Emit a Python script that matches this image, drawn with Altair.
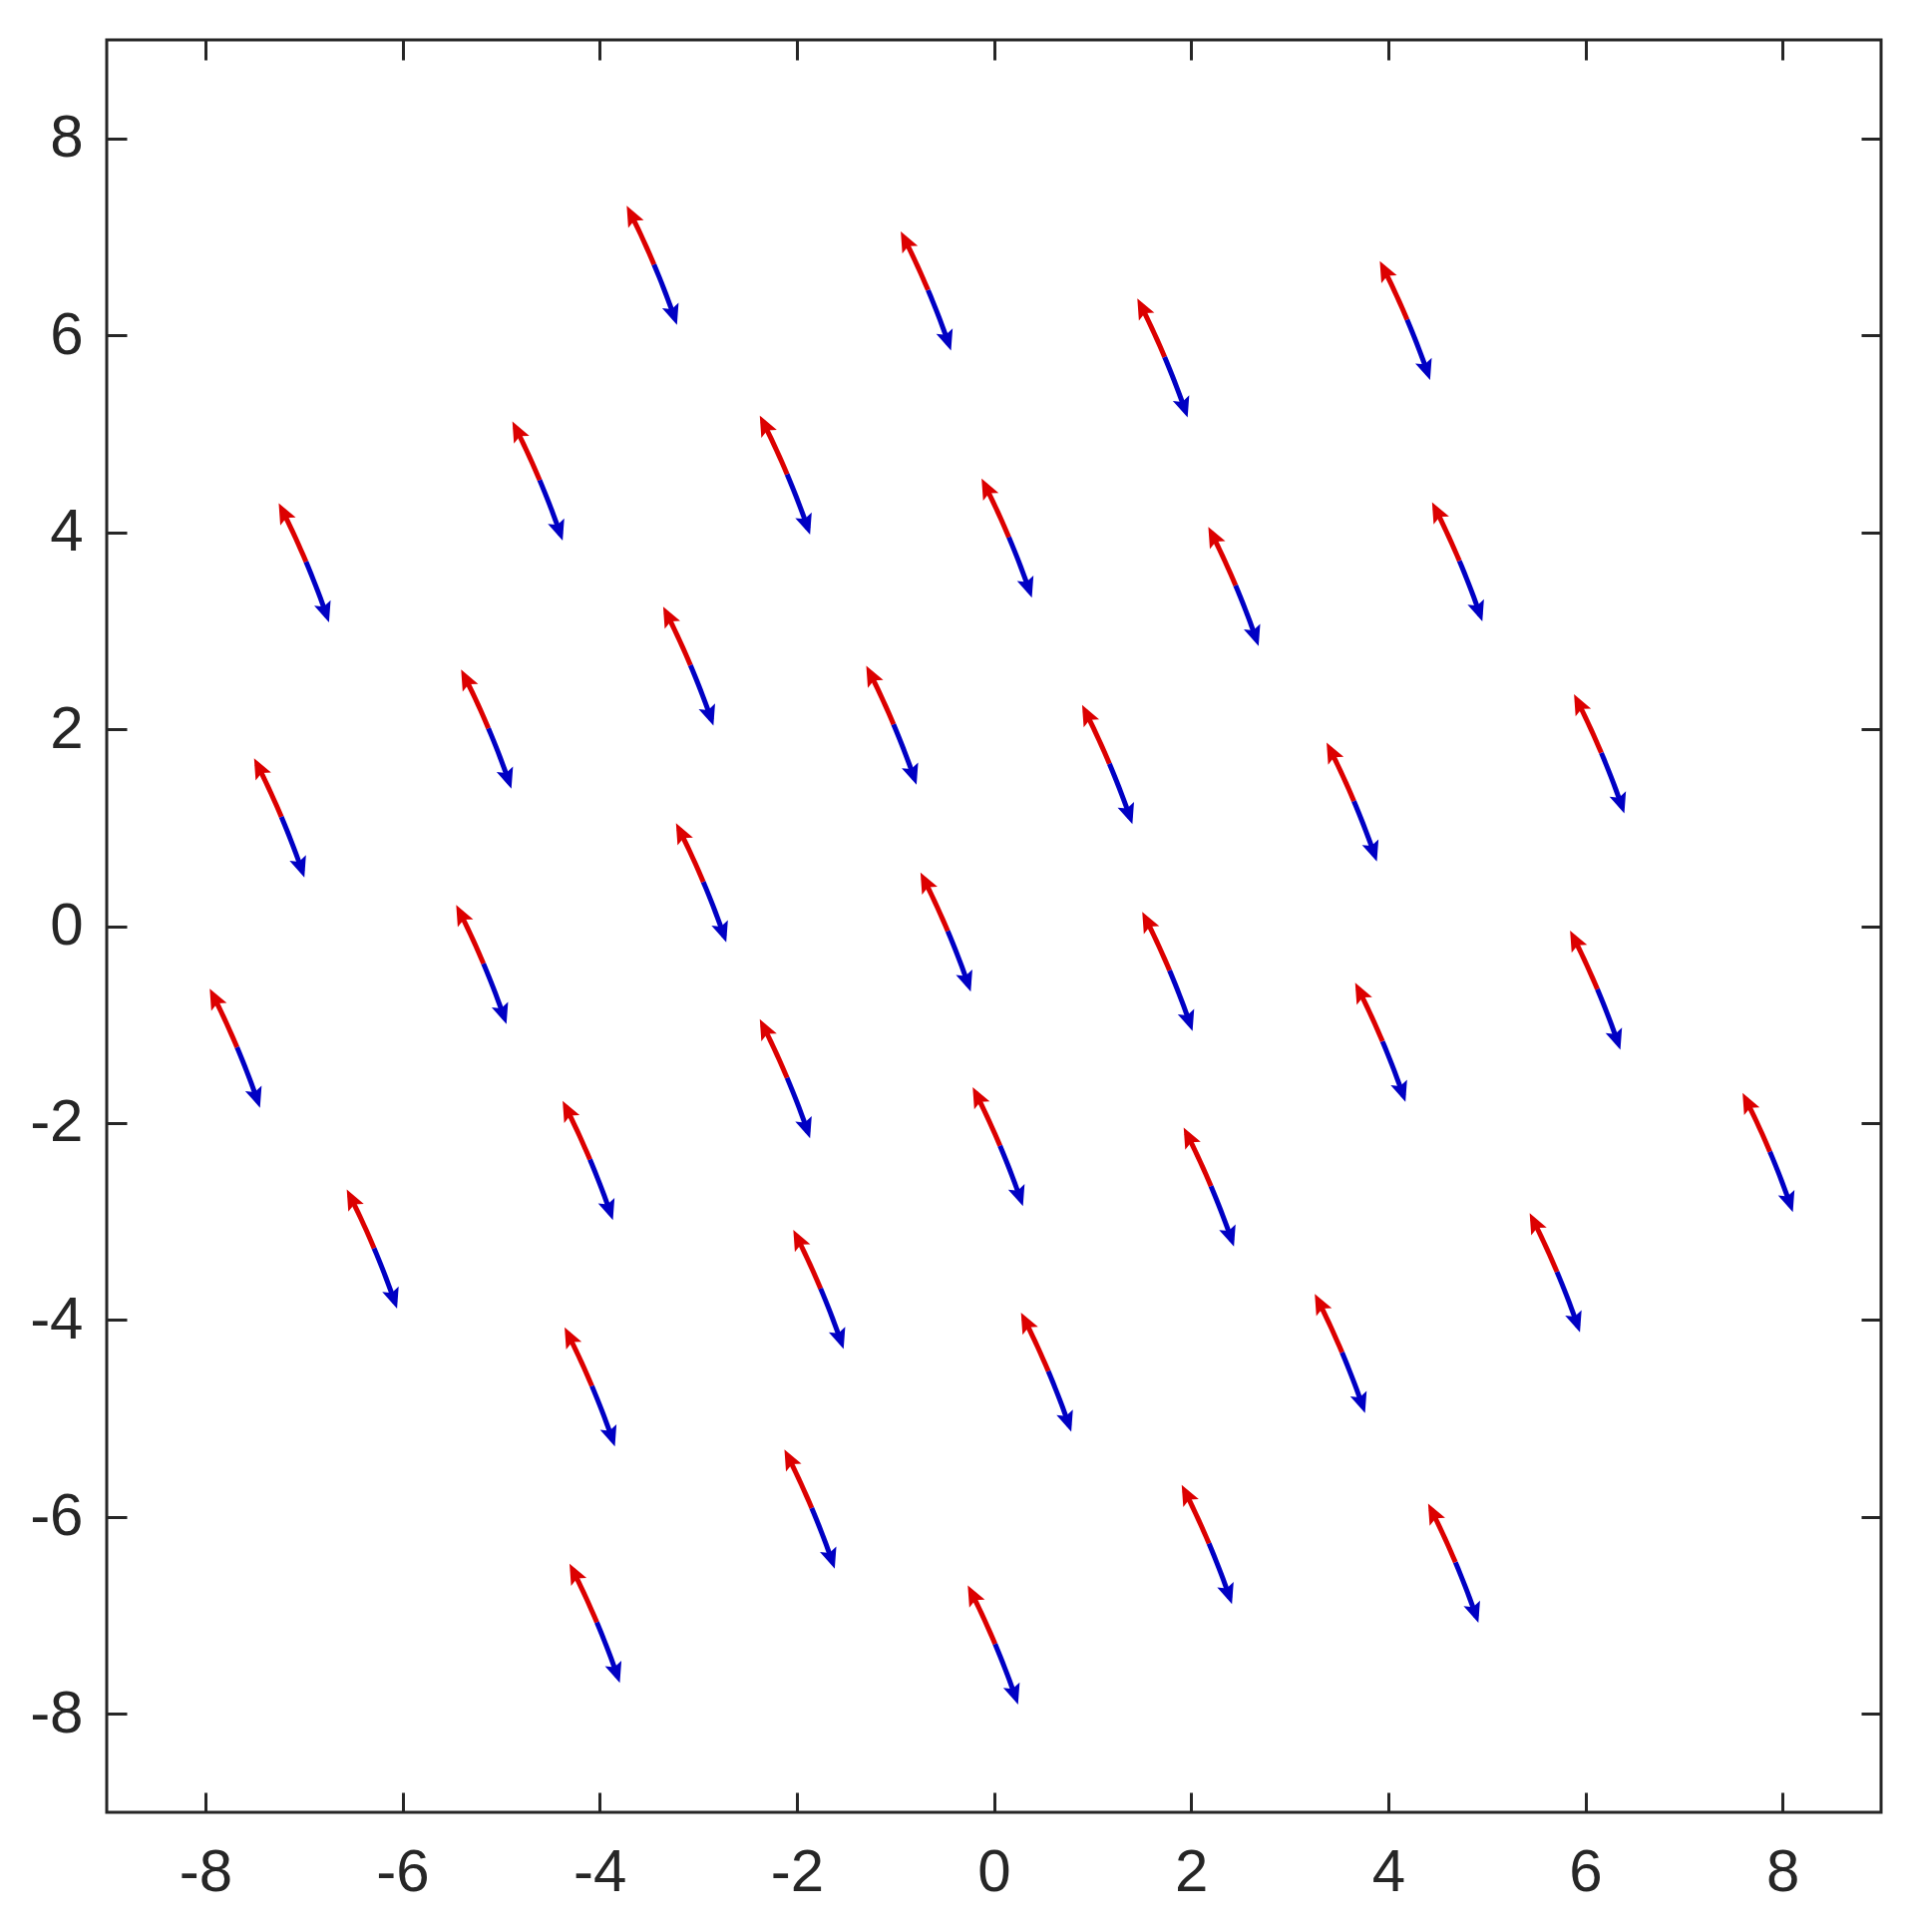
import altair as alt
import numpy as np
import pandas as pd

# arrow centres (data units)
arrow_x = [-3.47, -0.69, 1.71, 4.17, -4.63, -2.12, 0.13, -7.00, 2.43, 4.70,
           -3.10, -5.15, -1.04, 1.15, 6.14, -7.25, 3.63, -2.97, -0.49, -5.20,
           1.76, 6.10, -7.70, 3.92, -2.12, -4.12, 0.04, 2.18, 7.85, -6.31,
           -1.78, 5.69, 3.51, 0.53, -4.10, -1.87, 2.16, 4.66, -4.05, -0.01]
arrow_y = [6.71, 6.45, 5.77, 6.15, 4.52, 4.58, 3.94, 3.69, 3.45, 3.70,
           2.64, 2.00, 2.04, 1.64, 1.75, 1.10, 1.26, 0.44, -0.06, -0.39,
           -0.46, -0.65, -1.24, -1.18, -1.55, -2.38, -2.24, -2.65, -2.30, -3.28,
           -3.69, -3.52, -4.34, -4.53, -4.68, -5.92, -6.28, -6.47, -7.08, -7.30]
# half vector from centre to blue tip, and bow of the curve
half_u, half_v = 0.255, -0.605
bow_u, bow_v = 0.022, 0.009
tick_values = [-8, -6, -4, -2, 0, 2, 4, 6, 8]
halves = ["red", "blue"]
colors = ["#dc0000", "#0000c4"]

rows = []
heads = []
for i, (cx, cy) in enumerate(zip(arrow_x, arrow_y)):
    for half, ts in (("red", np.linspace(-0.9, 0, 10)), ("blue", np.linspace(0, 0.9, 10))):
        for t in ts:
            rows.append({"id": i, "half": half, "t": float(t),
                         "x": cx + t * half_u + (1 - t * t) * bow_u,
                         "y": cy + t * half_v + (1 - t * t) * bow_v})
    for half, t in (("red", -1.0), ("blue", 1.0)):
        dx = half_u - 2 * t * bow_u
        dy = half_v - 2 * t * bow_v
        if t < 0:
            dx, dy = -dx, -dy
        ang = float(np.degrees(np.arctan2(dx, dy)) % 360)
        heads.append({"id": i, "half": half, "angle": ang,
                      "x": cx + t * half_u, "y": cy + t * half_v})

lines_df = pd.DataFrame(rows)
heads_df = pd.DataFrame(heads)

dom = [-9, 9]
color_scale = alt.Scale(domain=halves, range=colors)
axis_common = dict(title=None, values=tick_values, grid=False, domain=False,
                   offset=-20, tickSize=20, tickWidth=3, tickColor="#262626",
                   labelFont="Liberation Sans", labelFontSize=60, labelColor="#262626",
                   labelExpr="'' + datum.value")

lines = alt.Chart(lines_df).mark_line(strokeWidth=5).encode(
    x=alt.X("x:Q", scale=alt.Scale(domain=dom, nice=False, zero=False),
            axis=alt.Axis(orient="bottom", labelPadding=31, **axis_common)),
    y=alt.Y("y:Q", scale=alt.Scale(domain=dom, nice=False, zero=False),
            axis=alt.Axis(orient="left", labelPadding=24, **axis_common)),
    color=alt.Color("half:N", scale=color_scale, legend=None),
    detail=["id:N", "half:N"],
    order="t:Q",
)

head_path = "M0,0 L0.55,1.3 L0,1.05 L-0.55,1.3 Z"
points = alt.Chart(heads_df).mark_point(shape=head_path, filled=True, opacity=1, size=1000, strokeWidth=0).encode(
    x=alt.X("x:Q", scale=alt.Scale(domain=dom, nice=False, zero=False),
            axis=alt.Axis(orient="top", labels=False, **axis_common)),
    y=alt.Y("y:Q", scale=alt.Scale(domain=dom, nice=False, zero=False),
            axis=alt.Axis(orient="right", labels=False, **axis_common)),
    color=alt.Color("half:N", scale=color_scale, legend=None),
    angle=alt.Angle("angle:Q", scale=None),
)

chart = alt.layer(lines, points).resolve_axis(x="independent", y="independent").properties(
    width=1779, height=1777,
    padding={"left": 99, "top": 32, "right": 20, "bottom": 100},
    autosize=alt.AutoSizeParams(type="none"),
    background="white",
).configure_view(stroke="#262626", strokeWidth=3)

chart.save("out.html", embed_options={"renderer": "svg", "actions": False})
